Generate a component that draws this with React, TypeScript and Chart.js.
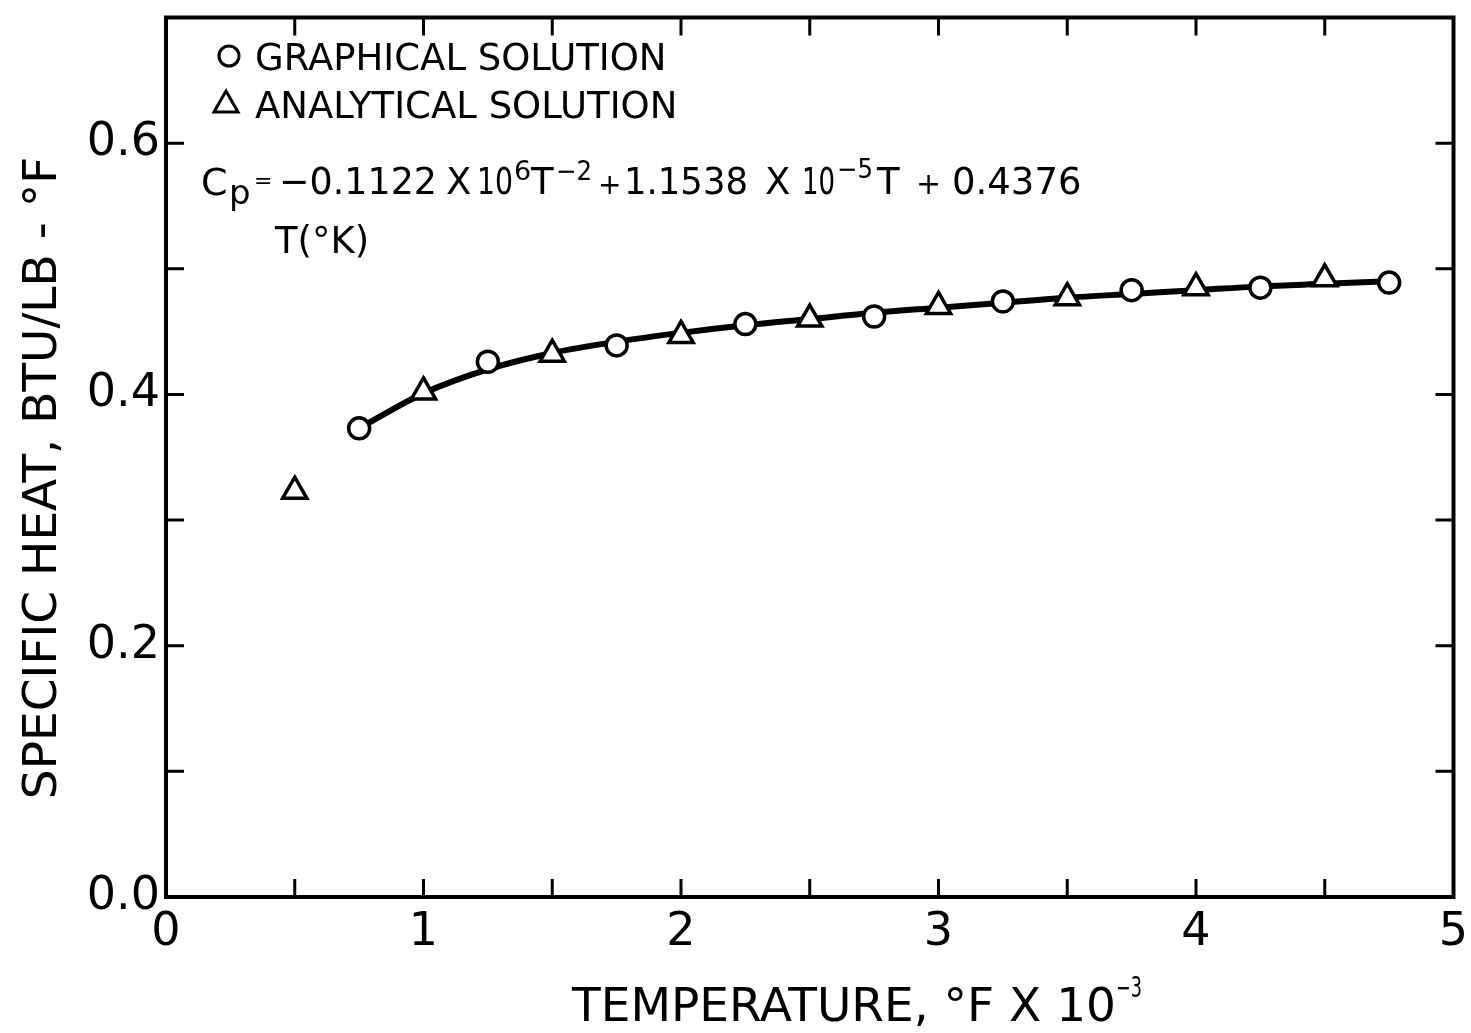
import { useEffect, useRef } from 'react';
import { Chart, registerables } from 'chart.js';

Chart.register(...registerables);

// Axis tick values
const xTickLabels = [0, 1, 2, 3, 4, 5];
const xMinorTicks = [0.5, 1, 1.5, 2, 2.5, 3, 3.5, 4, 4.5];
const yTickLabels = [0, 0.2, 0.4, 0.6];
const yMinorTicks = [0.1, 0.2, 0.3, 0.4, 0.5, 0.6];

// Graphical solution (circles): temperature (°F x 10^-3) vs specific heat
const graphicalT = [0.75, 1.25, 1.75, 2.25, 2.75, 3.25, 3.75, 4.25, 4.75];
const graphicalCp = [0.373, 0.426, 0.439, 0.456, 0.462, 0.474, 0.483, 0.485, 0.489];

// Analytical solution (triangles)
const analyticalT = [0.5, 1.0, 1.5, 2.0, 2.5, 3.0, 3.5, 4.0, 4.5];
const analyticalCp = [0.323, 0.402, 0.432, 0.447, 0.46, 0.47, 0.477, 0.485, 0.492];

// Fitted Cp curve
const curveT = [0.75, 1.0, 1.25, 1.5, 1.75, 2.0, 2.25, 2.5, 2.75, 3.0, 3.25, 3.5, 3.75, 4.0, 4.25, 4.5, 4.75];
const curveCp = [0.373, 0.401, 0.42, 0.433, 0.442, 0.449, 0.455, 0.46, 0.465, 0.469, 0.473, 0.477, 0.48, 0.483, 0.486, 0.488, 0.49];

const FONT = "'DejaVu Sans', 'Noto Sans', sans-serif";
const INK = '#000';

// Plot frame in canvas pixels
const FRAME = { left: 166, top: 11, right: 1454, bottom: 897 };

const toPoints = (xs: number[], ys: number[]) => xs.map((x, i) => ({ x, y: ys[i] }));

// Boxed frame with inward tick marks on all four sides
const framePlugin = {
  id: 'frame',
  beforeDatasetsDraw(chart: any) {
    const { ctx, chartArea } = chart;
    const { left, right, top, bottom } = chartArea;
    const xs = chart.scales.x;
    const ys = chart.scales.y;
    const len = 18;
    ctx.save();
    ctx.strokeStyle = INK;
    ctx.lineWidth = 3;
    ctx.beginPath();
    xMinorTicks.forEach((v) => {
      const px = xs.getPixelForValue(v);
      ctx.moveTo(px, bottom);
      ctx.lineTo(px, bottom - len);
      ctx.moveTo(px, top);
      ctx.lineTo(px, top + len);
    });
    yMinorTicks.forEach((v) => {
      const py = ys.getPixelForValue(v);
      ctx.moveTo(left, py);
      ctx.lineTo(left + len, py);
      ctx.moveTo(right, py);
      ctx.lineTo(right - len, py);
    });
    ctx.stroke();
    ctx.lineWidth = 4;
    ctx.strokeRect(left, top, right - left, bottom - top);
    ctx.restore();
  },
};

type Seg = { t: string; x: number; y: number; size: number; w?: number };

const equation: Seg[] = [
  { t: 'C', x: 201, y: 195, size: 38 },
  { t: 'p', x: 229, y: 204, size: 34 },
  { t: '=', x: 254, y: 188, size: 22 },
  { t: '−0.1122', x: 279, y: 194, size: 37, w: 158 },
  { t: 'X', x: 446, y: 194, size: 37 },
  { t: '10', x: 477, y: 194, size: 37, w: 36 },
  { t: '6', x: 514, y: 180, size: 27 },
  { t: 'T', x: 531, y: 194, size: 37 },
  { t: '−2', x: 556, y: 180, size: 27, w: 36 },
  { t: '+', x: 598, y: 194, size: 28 },
  { t: '1.1538', x: 624, y: 194, size: 37, w: 124 },
  { t: 'X', x: 765, y: 194, size: 37 },
  { t: '10', x: 802, y: 194, size: 37, w: 33 },
  { t: '−5', x: 837, y: 178, size: 27, w: 36 },
  { t: 'T', x: 877, y: 194, size: 37 },
  { t: '+', x: 916, y: 194, size: 30 },
  { t: '0.4376', x: 952, y: 194, size: 37, w: 130 },
  { t: 'T(°K)', x: 275, y: 253, size: 37 },
];

// Legend, equation and axis titles drawn on the canvas
const annotationPlugin = {
  id: 'annotations',
  afterDraw(chart: any) {
    const { ctx } = chart;
    ctx.save();
    ctx.fillStyle = INK;
    ctx.strokeStyle = INK;
    ctx.textAlign = 'left';
    ctx.textBaseline = 'alphabetic';

    // legend symbols
    ctx.lineWidth = 3;
    ctx.beginPath();
    ctx.arc(229, 56, 10, 0, Math.PI * 2);
    ctx.stroke();
    ctx.beginPath();
    ctx.moveTo(226, 91);
    ctx.lineTo(238, 112);
    ctx.lineTo(214, 112);
    ctx.closePath();
    ctx.stroke();

    const labels = chart.data.datasets.filter((d: any) => d.legendText).map((d: any) => d.label);
    ctx.font = `37px ${FONT}`;
    ctx.fillText(labels[0], 255, 70, 418);
    ctx.fillText(labels[1], 255, 118, 437);

    // equation
    equation.forEach((s) => {
      ctx.font = `${s.size}px ${FONT}`;
      if (s.w) ctx.fillText(s.t, s.x, s.y, s.w);
      else ctx.fillText(s.t, s.x, s.y);
    });

    // x axis title
    ctx.font = `47px ${FONT}`;
    ctx.fillText('TEMPERATURE, °F X 10', 572, 1021, 546);
    ctx.font = `28px ${FONT}`;
    ctx.fillText('−3', 1116, 997, 26);

    // y axis title
    ctx.translate(56, 478);
    ctx.rotate(-Math.PI / 2);
    ctx.textAlign = 'center';
    ctx.font = `47px ${FONT}`;
    ctx.fillText('SPECIFIC HEAT, BTU/LB - °F', 0, 0, 646);
    ctx.restore();
  },
};

export default function App() {
  const canvasRef = useRef<HTMLCanvasElement | null>(null);

  useEffect(() => {
    document.body.style.margin = '0';
    const canvas = canvasRef.current;
    if (!canvas) return;

    const chart = new Chart(canvas, {
      type: 'line',
      data: {
        datasets: [
          {
            label: 'GRAPHICAL SOLUTION',
            legendText: true,
            data: toPoints(graphicalT, graphicalCp),
            showLine: false,
            pointStyle: 'circle',
            pointRadius: 10.5,
            pointBorderWidth: 3.5,
            pointBackgroundColor: '#fff',
            pointBorderColor: INK,
            order: 0,
          } as any,
          {
            label: 'ANALYTICAL SOLUTION',
            legendText: true,
            data: toPoints(analyticalT, analyticalCp),
            showLine: false,
            pointStyle: 'triangle',
            pointRadius: 14,
            pointBorderWidth: 3.5,
            pointBackgroundColor: '#fff',
            pointBorderColor: INK,
            order: 1,
          } as any,
          {
            label: 'Cp',
            data: toPoints(curveT, curveCp),
            borderColor: INK,
            borderWidth: 6,
            pointRadius: 0,
            cubicInterpolationMode: 'monotone',
            fill: false,
            order: 2,
          } as any,
        ],
      },
      options: {
        responsive: false,
        animation: false,
        events: [],
        layout: { padding: { top: FRAME.top, right: 1471 - FRAME.right, left: 0, bottom: 0 } },
        plugins: {
          legend: { display: false },
          tooltip: { enabled: false },
        },
        scales: {
          x: {
            type: 'linear',
            min: 0,
            max: 5,
            afterBuildTicks: (scale: any) => {
              scale.ticks = xTickLabels.map((v) => ({ value: v }));
            },
            afterFit: (scale: any) => {
              scale.height = 1033 - FRAME.bottom;
              scale.paddingLeft = 0;
              scale.paddingRight = 0;
              scale.paddingTop = 0;
              scale.paddingBottom = 0;
            },
            grid: { display: false, drawTicks: false },
            border: { display: false },
            ticks: {
              color: INK,
              padding: 8,
              maxRotation: 0,
              font: { family: FONT, size: 46 },
              callback: (v: any) => String(v),
            },
          },
          y: {
            type: 'linear',
            min: 0,
            max: 0.7,
            afterBuildTicks: (scale: any) => {
              scale.ticks = yTickLabels.map((v) => ({ value: v }));
            },
            afterFit: (scale: any) => {
              scale.width = FRAME.left;
              scale.paddingTop = 0;
              scale.paddingBottom = 0;
              scale.paddingLeft = 0;
              scale.paddingRight = 0;
            },
            grid: { display: false, drawTicks: false },
            border: { display: false },
            ticks: {
              color: INK,
              padding: 6,
              font: { family: FONT, size: 46 },
              callback: (v: any) => Number(v).toFixed(1),
            },
          },
        },
      },
      plugins: [framePlugin, annotationPlugin],
    });

    return () => chart.destroy();
  }, []);

  return (
    <div style={{ width: 1471, height: 1033, background: '#fff' }}>
      <canvas ref={canvasRef} width={1471} height={1033} style={{ display: 'block' }} />
    </div>
  );
}
